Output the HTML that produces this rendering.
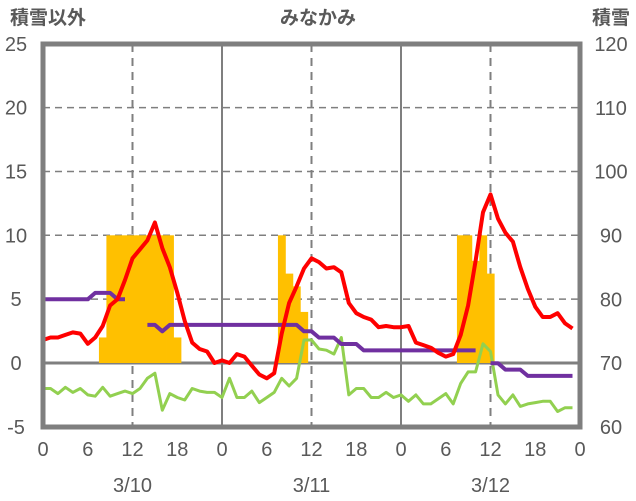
<!DOCTYPE html>
<html><head><meta charset="utf-8"><style>
html,body{margin:0;padding:0;background:#fff;}
svg{display:block;font-family:"Liberation Sans","Noto Sans CJK JP",sans-serif;}
</style></head><body>
<svg id="chart" width="636" height="501" viewBox="0 0 636 501" xmlns="http://www.w3.org/2000/svg">
<g id="grid"></g>
<g id="bars"></g>
<g id="lines"></g>
<g id="frame"></g>
<g id="labels" fill="#595959"></g>
<text x="48" y="24" font-size="19" font-weight="bold" text-anchor="middle" fill="#595959">積雪以外</text>
<text x="318" y="24" font-size="19" font-weight="bold" text-anchor="middle" fill="#595959">みなかみ</text>
<text x="611" y="24" font-size="19" font-weight="bold" text-anchor="middle" fill="#595959">積雪</text>
</svg>
<script>
const leftTicks=[25,20,15,10,5,0,-5];
const rightTicks=[120,110,100,90,80,70,60];
const hourTicks=["0","6","12","18","0","6","12","18","0","6","12","18","0"];
const dateLabels=["3/10","3/11","3/12"];
const snowHours=[8,9,10,11,12,13,14,15,16,17,18,32,33,34,35,56,57,58,59,60];
const snowValues=[2,10,10,10,10,10,10,10,10,10,2,10,7,6,4,10,10,8,10,7];
const temperature=[1.8,2.0,2.0,2.2,2.4,2.3,1.5,2.0,2.9,4.5,5.0,6.5,8.2,8.9,9.6,11.0,9.0,7.5,5.5,3.3,1.6,1.1,0.9,0.0,
0.2,0.0,0.7,0.5,-0.2,-0.9,-1.2,-0.8,2.3,4.7,6.0,7.4,8.2,7.9,7.4,7.5,7.1,4.7,3.9,3.6,3.4,2.8,2.9,2.8,
2.8,2.9,1.6,1.4,1.2,0.8,0.5,0.7,2.2,4.5,8.0,11.8,13.2,11.3,10.2,9.5,7.5,5.8,4.4,3.6,3.6,3.9,3.1,2.7];
const otherSeries=[-2.0,-2.0,-2.4,-1.9,-2.3,-2.0,-2.5,-2.6,-1.9,-2.6,-2.4,-2.2,-2.4,-2.0,-1.2,-0.8,-3.7,-2.4,-2.7,-2.9,-2.0,-2.2,-2.3,-2.3,
-2.7,-1.2,-2.7,-2.7,-2.2,-3.1,-2.7,-2.3,-1.2,-1.8,-1.2,1.8,1.8,1.1,1.0,0.7,2.0,-2.5,-2.0,-2.0,-2.7,-2.7,-2.3,-2.7,
-2.5,-3.0,-2.5,-3.2,-3.2,-2.8,-2.4,-3.2,-1.6,-0.7,-0.7,1.5,0.9,-2.5,-3.2,-2.5,-3.4,-3.2,-3.1,-3.0,-3.0,-3.8,-3.5,-3.5];
const snowDepth=[80,80,80,80,80,80,80,81,81,81,80,80,null,null,76,76,75,76,76,76,76,76,76,76,
76,76,76,76,76,76,76,76,76,76,76,75,75,74,74,74,73,73,73,72,72,72,72,72,
72,72,72,72,72,72,72,72,72,72,72,null,70,70,69,69,69,68,68,68,68,68,68,68];

const X0=43,X1=580,Y0=363,UNIT=12.77,NS="http://www.w3.org/2000/svg";
const xS=h=>X0+h*(X1-X0)/72;
const yL=v=>Y0-v*UNIT;
const yR=d=>427-(d-60)*(383/60);
function mk(tag,attrs,parent){const e=document.createElementNS(NS,tag);for(const k in attrs)e.setAttribute(k,attrs[k]);parent.appendChild(e);return e;}
const grid=document.getElementById('grid'),bars=document.getElementById('bars'),lines=document.getElementById('lines'),frame=document.getElementById('frame'),labels=document.getElementById('labels');

leftTicks.forEach(v=>{
  if(v>-5&&v<25&&v!==0){const l=mk('line',{x1:X0,x2:X1,y1:yL(v),y2:yL(v),stroke:'#7f7f7f','stroke-width':1.5,'stroke-dasharray':'7,5'},grid);
  
  }
  const t=mk('text',{x:16,y:yL(v)+7,'font-size':20,'text-anchor':'middle'},labels);t.textContent=v;
  
  
});
rightTicks.forEach(d=>{
  const t=mk('text',{x:611,y:yR(d)+7,'font-size':20,'text-anchor':'middle'},labels);t.textContent=d;
  
  
});
hourTicks.forEach((s,i)=>{
  const h=i*6,x=xS(h);
  if(h%24===12){const l=mk('line',{x1:x,x2:x,y1:44,y2:427,stroke:'#7f7f7f','stroke-width':2,'stroke-dasharray':'8,6'},grid);
    
    }
  if(h%24===0&&h>0&&h<72){const l=mk('line',{x1:x,x2:x,y1:44,y2:427,stroke:'#7f7f7f','stroke-width':2},grid);
    
    }
  const t=mk('text',{x:x,y:456,'font-size':20,'text-anchor':'middle'},labels);t.textContent=s;
  
  
});
dateLabels.forEach((s,i)=>{
  const t=mk('text',{x:xS(i*24+12),y:492,'font-size':20,'text-anchor':'middle'},labels);t.textContent=s;
  
  
});
const zl=mk('line',{x1:X0,x2:X1,y1:Y0,y2:Y0,stroke:'#7f7f7f','stroke-width':3},grid);



snowHours.forEach((h,i)=>{
  const r=mk('rect',{x:xS(h-0.5),y:yL(snowValues[i]),width:xS(h+0.5)-xS(h-0.5)+0.4,height:Y0-yL(snowValues[i]),fill:'#FFC000'},bars);
  
  
});

function drawSeries(arr,yf,color,w,name){
  let d='',pen=false;
  arr.forEach((v,h)=>{if(v===null){pen=false;return;}d+=(pen?'L':'M')+xS(h).toFixed(1)+','+yf(v).toFixed(1)+' ';pen=true;});
  const p=mk('path',{d:d,fill:'none',stroke:color,'stroke-width':w,'stroke-linejoin':'round'},lines);
  
  
}
drawSeries(otherSeries,yL,'#92D050',3,'green-series-line');
drawSeries(snowDepth,yR,'#7030A0',4,'snow-depth-line');
drawSeries(temperature,yL,'#FF0000',4,'temperature-line');

const fr=mk('rect',{x:X0,y:44,width:X1-X0,height:383,fill:'none',stroke:'#7f7f7f','stroke-width':5},frame);


</script>
</body></html>
